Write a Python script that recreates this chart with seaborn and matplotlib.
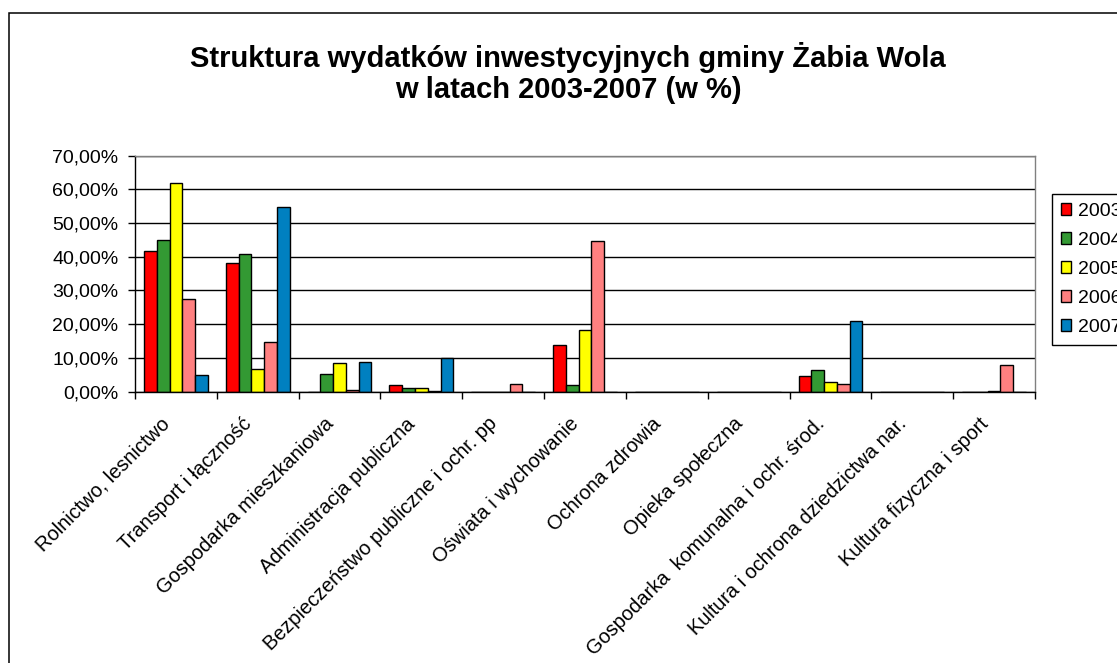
import numpy as np
import pandas as pd
import matplotlib
matplotlib.use("Agg")
import matplotlib.pyplot as plt
import matplotlib.transforms as mtransforms
from matplotlib.patches import Rectangle
from matplotlib.ticker import FuncFormatter
import seaborn as sns

# ── Data (percent of investment spending) ──────────────────────────────────────
categories = [
    "Rolnictwo, lesnictwo",
    "Transport i łączność",
    "Gospodarka mieszkaniowa",
    "Administracja publiczna",
    "Bezpieczeństwo publiczne i ochr. pp",
    "Oświata i wychowanie",
    "Ochrona zdrowia",
    "Opieka społeczna",
    "Gospodarka  komunalna i ochr. środ.",
    "Kultura i ochrona dziedzictwa nar.",
    "Kultura fizyczna i sport",
]
years = ["2003", "2004", "2005", "2006", "2007"]
v2003 = [41.6, 38.1, 0.0, 1.9, 0.0, 13.8, 0.0, 0.0, 4.6, 0.0, 0.0]
v2004 = [44.9, 40.7, 5.3, 1.0, 0.0, 1.9, 0.0, 0.0, 6.3, 0.0, 0.0]
v2005 = [61.9, 6.6, 8.4, 1.0, 0.0, 18.2, 0.0, 0.0, 2.8, 0.0, 0.3]
v2006 = [27.5, 14.6, 0.4, 0.3, 2.2, 44.8, 0.0, 0.0, 2.3, 0.0, 8.0]
v2007 = [4.9, 54.8, 8.9, 10.1, 0.0, 0.0, 0.0, 0.0, 20.9, 0.0, 0.0]
colors = ["#FF0000", "#339933", "#FFFF00", "#FF8080", "#0080C0"]

rows = []
for yr, vals in zip(years, [v2003, v2004, v2005, v2006, v2007]):
    for cat, v in zip(categories, vals):
        rows.append({"kategoria": cat, "rok": yr, "udzial": v})
df = pd.DataFrame(rows)

# ── Style ──────────────────────────────────────────────────────────────────────
sns.set_style("white")
plt.rcParams["font.family"] = ["Liberation Sans", "DejaVu Sans"]
plt.rcParams.update({"text.color": "black", "xtick.color": "black",
                     "ytick.color": "black", "axes.labelcolor": "black"})

W, H = 1117, 663
FS = 14
fig = plt.figure(figsize=(W / 100, H / 100), dpi=100, facecolor="white")
ax = fig.add_axes([135 / W, 1 - 391.7 / H, 900 / W, 236.2 / H])

sns.barplot(data=df, x="kategoria", y="udzial", hue="rok", order=categories,
            hue_order=years, palette=dict(zip(years, colors)), width=0.78,
            edgecolor="black", linewidth=1.0, saturation=1, ax=ax)

ax.set_ylim(0, 70)
ax.set_xlim(-0.5, len(categories) - 0.5)
ax.set_yticks(np.arange(0, 71, 10))
ax.yaxis.set_major_formatter(FuncFormatter(lambda v, p: f"{v:.2f}%".replace(".", ",")))
ax.set_xlabel("")
ax.set_ylabel("")

ax.set_axisbelow(True)
ax.yaxis.grid(True, color="black", linewidth=1.0)
for side in ["left", "bottom"]:
    ax.spines[side].set_color("black")
    ax.spines[side].set_linewidth(1.0)
for side in ["top", "right"]:
    ax.spines[side].set_color("#808080")
    ax.spines[side].set_linewidth(1.0)

ax.tick_params(axis="y", direction="out", length=5, width=1, color="black",
               labelsize=FS, pad=7, left=True)
ax.set_xticks(np.arange(-0.5, len(categories), 1), minor=True)
ax.tick_params(axis="x", which="minor", direction="out", length=5, width=1,
               color="black", bottom=True)
ax.tick_params(axis="x", which="major", length=0, pad=21, labelsize=14.4)
ax.set_xticklabels(categories, rotation=45, ha="right", va="center",
                   rotation_mode="anchor")
shift = mtransforms.ScaledTranslation(-9 / 100, 0, fig.dpi_scale_trans)
for lab in ax.get_xticklabels():
    lab.set_transform(lab.get_transform() + shift)

# Legend (box runs off the right edge like in the original)
handles, labels = ax.get_legend_handles_labels()
ax.legend(handles, labels, loc="upper left", bbox_to_anchor=(1052 / W, 1 - 194 / H),
          bbox_transform=fig.transFigure, borderaxespad=0, fontsize=FS,
          frameon=True, fancybox=False, framealpha=1, edgecolor="black",
          handlelength=0.53, handleheight=0.53, handletextpad=0.36,
          labelspacing=0.62, borderpad=0.45)
ax.get_legend().get_frame().set_linewidth(1.0)

fig.text(568 / W, 1 - 73 / H,
         "Struktura wydatków inwestycyjnych gminy Żabia Wola\nw latach 2003-2007 (w %)",
         ha="center", va="center", fontsize=21, fontweight="bold", linespacing=1.15)

# outer chart frame
fig.patches.append(Rectangle((9 / W, -0.05), 1.2, 1 - 13 / H + 0.05, fill=False,
                             edgecolor="black", linewidth=1.1,
                             transform=fig.transFigure, figure=fig))

fig.savefig("out.png", dpi=100, facecolor="white")
